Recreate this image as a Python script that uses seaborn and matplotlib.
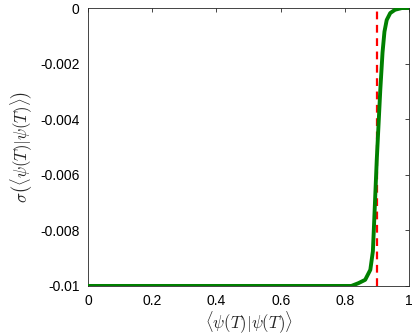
import matplotlib
matplotlib.use("Agg")
import matplotlib.pyplot as plt
import seaborn as sns
import pandas as pd

overlap = [0.0, 0.82, 0.842, 0.863, 0.879, 0.887, 0.891, 0.899, 0.910, 0.917, 0.923, 0.930,
           0.941, 0.956, 0.977, 1.0]
sigma = [-0.01, -0.01, -0.0099, -0.00978, -0.00942, -0.00875, -0.00768, -0.00547, -0.00295,
         -0.00160, -0.00085, -0.00043, -0.00018, -0.00006, 0.0, 0.0]
threshold = 0.901
xticks = [0, 0.2, 0.4, 0.6, 0.8, 1]
xticklabels = ["0", "0.2", "0.4", "0.6", "0.8", "1"]
yticks = [-0.01, -0.008, -0.006, -0.004, -0.002, 0]
yticklabels = ["-0.01", "-0.008", "-0.006", "-0.004", "-0.002", "0"]

sns.set_style("white")
plt.rcParams["font.family"] = ["Liberation Sans", "DejaVu Sans"]
plt.rcParams["mathtext.fontset"] = "cm"
plt.rcParams["axes.unicode_minus"] = False

df = pd.DataFrame({"x": overlap, "y": sigma})

fig = plt.figure(figsize=(4.15, 3.36), dpi=100)
ax = fig.add_axes([0.212, 0.149, 0.774, 0.827])
sns.lineplot(data=df, x="x", y="y", ax=ax, color="#008000", linewidth=2.8, zorder=3)
ax.axvline(threshold, color="#ff0000", linestyle=(0, (3.5, 2.5)), linewidth=1.6, zorder=2)

ax.set_xlim(0, 1)
ax.set_ylim(-0.01, 0)
ax.set_xticks(xticks)
ax.set_xticklabels(xticklabels)
ax.set_yticks(yticks)
ax.set_yticklabels(yticklabels)
ax.tick_params(direction="in", length=3, width=0.6, top=True, right=True,
               labelsize=10, colors="#262626", labelcolor="black", pad=6)
for s in ax.spines.values():
    s.set_color("#262626")
    s.set_linewidth(0.6)
ax.set_xlabel(r"$\langle\psi(T)|\psi(T)\rangle$", fontsize=12, labelpad=1)
ax.set_ylabel(r"$\sigma\left(\langle\psi(T)|\psi(T)\rangle\right)$", fontsize=12, labelpad=4)

fig.savefig("out.png", dpi=100)
